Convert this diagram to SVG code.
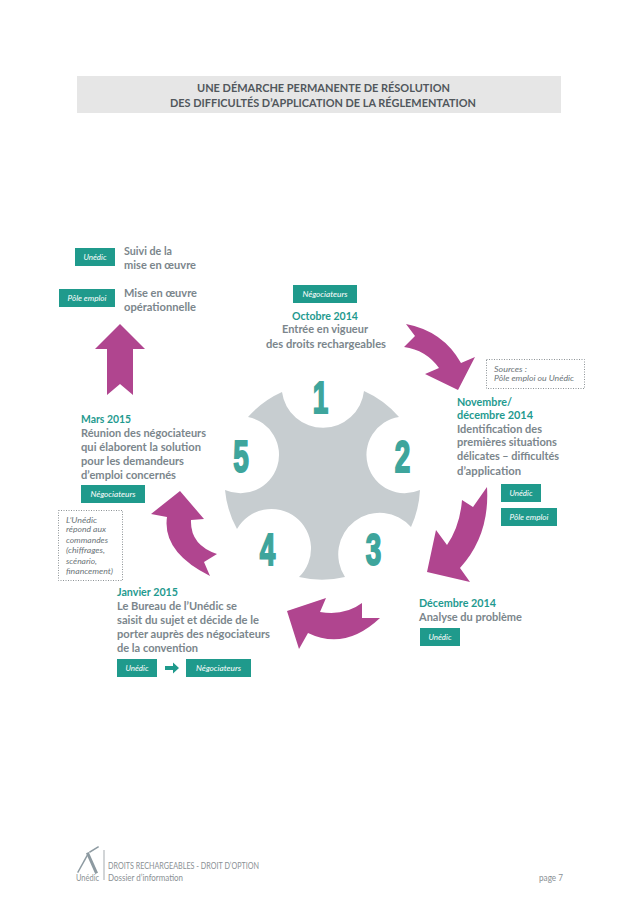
<svg xmlns="http://www.w3.org/2000/svg" width="638" height="903" viewBox="0 0 638 903">
<style>
text{font-family:Lato,"Liberation Sans",sans-serif}
.b{font-size:11.5px;font-weight:700;fill:#7b868c}
.h{font-size:11.5px;font-weight:700;fill:#1f9a8f}
.t{font-size:11.5px;font-weight:700;fill:#51575c;text-anchor:middle}
.tag{fill:#1f9a8c}
.tl{font-size:8.5px;font-style:italic;fill:#fff;text-anchor:middle}
.n{font-size:8.5px;font-style:italic;fill:#6b7478}
.dot{fill:#fff;stroke:#8d9396;stroke-width:1;stroke-dasharray:1 1.5}
.arr{fill:#b0458f}
.d{font-family:"Liberation Sans",sans-serif;font-size:45px;font-weight:700;fill:#3ea59c;stroke:#3ea59c;stroke-width:2;text-anchor:middle}
.f{font-size:8.5px;fill:#8a9094}
</style>
<rect width="638" height="903" fill="#fff"/>
<g id="title">
<rect x="77" y="76" width="484" height="37" fill="#e6e6e6"/>
<text class="t" x="323.5" y="92" textLength="253" lengthAdjust="spacingAndGlyphs">UNE DÉMARCHE PERMANENTE DE RÉSOLUTION</text>
<text class="t" x="323" y="107" textLength="306" lengthAdjust="spacingAndGlyphs">DES DIFFICULTÉS D’APPLICATION DE LA RÉGLEMENTATION</text>
</g>
<g id="gear">
<path d="M282,392A41.3,41.3 0 0 0 364,391A99,99 0 0 1 399,417A38.3,38.3 0 1 0 420,490A99,99 0 0 1 411,527A41.5,41.5 0 0 0 345,577A99,99 0 0 1 299,577A39.6,39.6 0 1 0 237,529A99,99 0 0 1 225,490A38.5,38.5 0 1 0 248,417A99,99 0 0 1 282,392Z" fill="#c7cdd0"/>
<text class="d" transform="translate(320.5,413) scale(.62,1)">1</text>
<text class="d" transform="translate(402.5,472) scale(.62,1)">2</text>
<text class="d" transform="translate(373.5,565) scale(.62,1)">3</text>
<text class="d" transform="translate(267.5,565) scale(.62,1)">4</text>
<text class="d" transform="translate(241,472) scale(.62,1)">5</text>
</g>
<g id="connectors">
<path class="arr" d="M406,324L415,336L404,347Q426,350 439,368L425,374L458,390L475,357L461,363Q443,331 406,324Z"/>
<path class="arr" d="M487,487L473,507L462,500Q460,526 447,545L436,530L427,572L470,582L460,568Q490,535 487,487Z"/>
<path class="arr" d="M287,611L326,598L320,612Q345,616 362,603L362,618L380,618Q345,651 308,633L299,649Z"/>
<path class="arr" d="M180,491L204,519L191,520Q190,545 217,554L204,562L210,576Q162,552 167,517L151,514Z"/>
<path class="arr" d="M120,324L145,349L133,349L133,395L120,384L107,395L107,349L95,349Z"/>
<path class="tag" d="M165,666H173V662.5L179,668L173,673.5V670H165Z"/>
</g>
<g id="node-suivi">
<rect class="tag" x="75" y="248" width="40" height="18"/>
<text class="tl" x="95" y="260" textLength="23" lengthAdjust="spacingAndGlyphs">Unédic</text>
<text class="b" x="124" y="255" textLength="48" lengthAdjust="spacingAndGlyphs">Suivi de la</text>
<text class="b" x="124" y="269" textLength="72" lengthAdjust="spacingAndGlyphs">mise en œuvre</text>
</g>
<g id="node-mise">
<rect class="tag" x="59" y="289" width="56" height="18"/>
<text class="tl" x="87" y="301" textLength="39" lengthAdjust="spacingAndGlyphs">Pôle emploi</text>
<text class="b" x="124" y="297" textLength="73" lengthAdjust="spacingAndGlyphs">Mise en œuvre</text>
<text class="b" x="124" y="311" textLength="72" lengthAdjust="spacingAndGlyphs">opérationnelle</text>
</g>
<g id="node-octobre">
<rect class="tag" x="293" y="285" width="64" height="18"/>
<text class="tl" x="325" y="297" textLength="45" lengthAdjust="spacingAndGlyphs">Négociateurs</text>
<text class="h" x="292" y="320" textLength="66" lengthAdjust="spacingAndGlyphs">Octobre 2014</text>
<text class="b" x="282" y="333" textLength="86" lengthAdjust="spacingAndGlyphs">Entrée en vigueur</text>
<text class="b" x="266" y="348" textLength="120" lengthAdjust="spacingAndGlyphs">des droits rechargeables</text>
</g>
<g id="node-novembre">
<rect class="dot" x="486.5" y="359.5" width="98" height="29"/>
<text class="n" x="494" y="372" textLength="33" lengthAdjust="spacingAndGlyphs">Sources :</text>
<text class="n" x="494" y="381" textLength="80" lengthAdjust="spacingAndGlyphs">Pôle emploi ou Unédic</text>
<text class="h" x="457" y="406" textLength="55" lengthAdjust="spacingAndGlyphs">Novembre/</text>
<text class="h" x="457" y="419" textLength="76" lengthAdjust="spacingAndGlyphs">décembre 2014</text>
<text class="b" x="457" y="433" textLength="85" lengthAdjust="spacingAndGlyphs">Identification des</text>
<text class="b" x="457" y="446" textLength="100" lengthAdjust="spacingAndGlyphs">premières situations</text>
<text class="b" x="457" y="460" textLength="102" lengthAdjust="spacingAndGlyphs">délicates – difficultés</text>
<text class="b" x="457" y="475" textLength="64" lengthAdjust="spacingAndGlyphs">d’application</text>
<rect class="tag" x="501" y="484" width="40" height="18"/>
<text class="tl" x="521" y="496" textLength="23" lengthAdjust="spacingAndGlyphs">Unédic</text>
<rect class="tag" x="501" y="508" width="56" height="18"/>
<text class="tl" x="529" y="520" textLength="39" lengthAdjust="spacingAndGlyphs">Pôle emploi</text>
</g>
<g id="node-decembre">
<text class="h" x="419" y="607" textLength="77" lengthAdjust="spacingAndGlyphs">Décembre 2014</text>
<text class="b" x="419" y="621" textLength="103" lengthAdjust="spacingAndGlyphs">Analyse du problème</text>
<rect class="tag" x="420" y="628" width="40" height="18"/>
<text class="tl" x="440" y="640" textLength="23" lengthAdjust="spacingAndGlyphs">Unédic</text>
</g>
<g id="node-janvier">
<text class="h" x="117" y="596" textLength="61" lengthAdjust="spacingAndGlyphs">Janvier 2015</text>
<text class="b" x="117" y="610" textLength="120" lengthAdjust="spacingAndGlyphs">Le Bureau de l’Unédic se</text>
<text class="b" x="117" y="624" textLength="142" lengthAdjust="spacingAndGlyphs">saisit du sujet et décide de le</text>
<text class="b" x="117" y="638" textLength="153" lengthAdjust="spacingAndGlyphs">porter auprès des négociateurs</text>
<text class="b" x="117" y="652" textLength="81" lengthAdjust="spacingAndGlyphs">de la convention</text>
<rect class="tag" x="117" y="659" width="40" height="18"/>
<text class="tl" x="137" y="671" textLength="23" lengthAdjust="spacingAndGlyphs">Unédic</text>
<rect class="tag" x="186" y="659" width="65" height="18"/>
<text class="tl" x="218.500" y="671" textLength="45" lengthAdjust="spacingAndGlyphs">Négociateurs</text>
</g>
<g id="node-mars">
<text class="h" x="81" y="423" textLength="50" lengthAdjust="spacingAndGlyphs">Mars 2015</text>
<text class="b" x="81" y="437" textLength="125" lengthAdjust="spacingAndGlyphs">Réunion des négociateurs</text>
<text class="b" x="81" y="451" textLength="120" lengthAdjust="spacingAndGlyphs">qui élaborent la solution</text>
<text class="b" x="81" y="465" textLength="103" lengthAdjust="spacingAndGlyphs">pour les demandeurs</text>
<text class="b" x="81" y="479" textLength="95" lengthAdjust="spacingAndGlyphs">d’emploi concernés</text>
<rect class="tag" x="81" y="485" width="64" height="18"/>
<text class="tl" x="113" y="497" textLength="45" lengthAdjust="spacingAndGlyphs">Négociateurs</text>
<rect class="dot" x="58.500" y="510.500" width="64" height="70"/>
<text class="n" x="66" y="523" textLength="31" lengthAdjust="spacingAndGlyphs">L’Unédic</text>
<text class="n" x="66" y="532" textLength="40" lengthAdjust="spacingAndGlyphs">répond aux</text>
<text class="n" x="66" y="543" textLength="42" lengthAdjust="spacingAndGlyphs">commandes</text>
<text class="n" x="66" y="553" textLength="39" lengthAdjust="spacingAndGlyphs">(chiffrages,</text>
<text class="n" x="66" y="564" textLength="31" lengthAdjust="spacingAndGlyphs">scénario,</text>
<text class="n" x="66" y="574" textLength="47" lengthAdjust="spacingAndGlyphs">financement)</text>
</g>
<g id="footer">
<g id="logo-mark" fill="none" stroke="#8d9aa1" stroke-linecap="square">
<path d="M78,872L88,854" stroke-width="1.5"/>
<path d="M88,854L96,872" stroke-width="3"/>
<path d="M90,852L98,847" stroke-width="1.5"/>
</g>
<text class="f" x="76" y="881" textLength="23" lengthAdjust="spacingAndGlyphs">Unédic</text>
<rect x="103.500" y="850" width="1" height="30" fill="#a5abaf"/>
<text class="f" x="108" y="869" textLength="151" lengthAdjust="spacingAndGlyphs">DROITS RECHARGEABLES - DROIT D’OPTION</text>
<text class="f" x="108" y="881" textLength="75" lengthAdjust="spacingAndGlyphs">Dossier d’information</text>
<text class="f" x="539" y="881" textLength="24" lengthAdjust="spacingAndGlyphs">page 7</text>
</g>
</svg>
